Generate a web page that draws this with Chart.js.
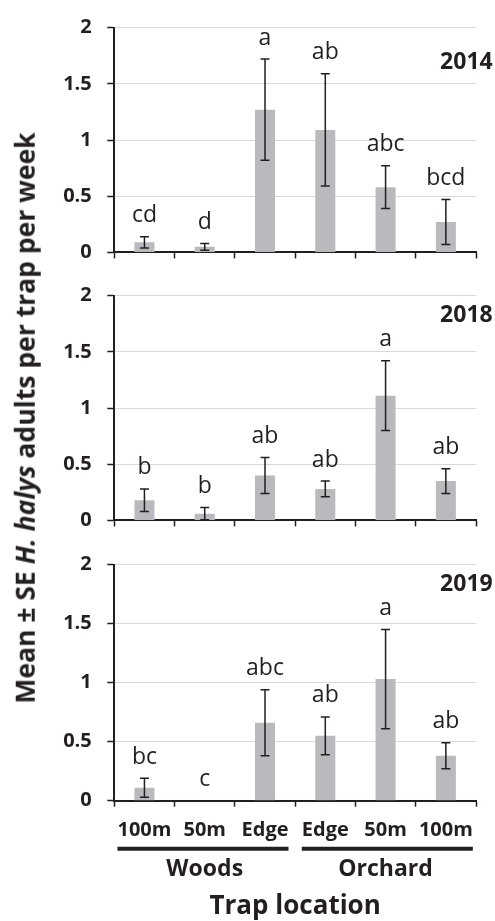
<!DOCTYPE html>
<html>
<head>
<meta charset="utf-8">
<script src="https://cdn.jsdelivr.net/npm/chart.js@4/dist/chart.umd.min.js"></script>
<style>
  body { margin: 0; background: #fff; }
  #wrap { position: relative; width: 495px; height: 921px; overflow: hidden; font-family: "Open Sans", sans-serif; }
  #wrap canvas { position: absolute; left: 0; }
  #ytitle {
    position: absolute; left: 25px; top: 418px;
    transform: translate(-50%, -50%) rotate(-90deg);
    white-space: nowrap; font-weight: bold; font-size: 26.5px; line-height: 1;
    color: #231f20;
  }
</style>
</head>
<body>
<div id="wrap">
  <canvas id="c2014" width="495" height="280" style="top:0px"></canvas>
  <canvas id="c2018" width="495" height="280" style="top:268px"></canvas>
  <canvas id="c2019" width="495" height="384" style="top:537px"></canvas>
  <div id="ytitle">Mean ± SE <i>H. halys</i> adults per trap per week</div>
</div>
<script>
// Trap positions along the transect, grouped by habitat
const locations = ['100m', '50m', 'Edge', 'Edge', '50m', '100m'];
const habitats = ['Woods', 'Orchard'];
const habitatOf = [0, 0, 0, 1, 1, 1];
const years = ['2014', '2018', '2019'];
const yTicks = [0, 0.5, 1, 1.5, 2];

// Mean adults per trap per week, standard errors and mean-separation letters
const mean2014 = [0.09, 0.05, 1.27, 1.09, 0.58, 0.27];
const se2014 = [0.05, 0.03, 0.45, 0.50, 0.19, 0.20];
const letters2014 = ['cd', 'd', 'a', 'ab', 'abc', 'bcd'];

const mean2018 = [0.18, 0.06, 0.40, 0.28, 1.11, 0.35];
const se2018 = [0.10, 0.055, 0.16, 0.07, 0.31, 0.11];
const letters2018 = ['b', 'b', 'ab', 'ab', 'a', 'ab'];

const mean2019 = [0.11, 0, 0.66, 0.55, 1.03, 0.38];
const se2019 = [0.08, 0, 0.28, 0.16, 0.42, 0.11];
const letters2019 = ['bc', 'c', 'abc', 'ab', 'a', 'ab'];

const INK = '#231f20';
const BAR = '#b9babd';
const FONT = '"Open Sans", sans-serif';

// Error bars, significance letters and the year tag for one panel
function panelPlugin(se, letters, year, yearOffset) {
  return {
    id: 'panelMarks',
    afterDatasetsDraw(chart) {
      const ctx = chart.ctx;
      const y = chart.scales.y;
      const meta = chart.getDatasetMeta(0);
      const vals = chart.data.datasets[0].data;
      ctx.save();
      ctx.strokeStyle = INK;
      ctx.lineWidth = 1.5;
      ctx.fillStyle = INK;
      ctx.font = '23px ' + FONT;
      ctx.textAlign = 'center';
      ctx.textBaseline = 'alphabetic';
      meta.data.forEach((bar, i) => {
        const m = vals[i], s = se[i];
        const yt = y.getPixelForValue(m + s);
        if (s > 0) {
          const yb = y.getPixelForValue(m - s);
          ctx.beginPath();
          ctx.moveTo(bar.x, yt); ctx.lineTo(bar.x, yb);
          ctx.moveTo(bar.x - 4.5, yt); ctx.lineTo(bar.x + 4.5, yt);
          ctx.moveTo(bar.x - 4.5, yb); ctx.lineTo(bar.x + 4.5, yb);
          ctx.stroke();
        }
        ctx.fillText(letters[i], bar.x, yt - 14.5);
      });
      ctx.font = 'bold 23px ' + FONT;
      ctx.textAlign = 'right';
      ctx.textBaseline = 'middle';
      ctx.fillText(year, chart.chartArea.right + 16.7, chart.chartArea.top + yearOffset);
      ctx.restore();
    }
  };
}

// Habitat bars and names under the location labels
const habitatPlugin = {
  id: 'habitatGroups',
  afterDraw(chart) {
    const ctx = chart.ctx;
    const x = chart.scales.x;
    ctx.save();
    ctx.fillStyle = INK;
    ctx.strokeStyle = INK;
    habitats.forEach((name, h) => {
      const idx = habitatOf.map((g, i) => g === h ? i : -1).filter(i => i >= 0);
      const first = idx[0], last = idx[idx.length - 1];
      ctx.font = 'bold 20px ' + FONT;
      const left = x.getPixelForValue(first) - ctx.measureText(locations[first]).width / 2;
      const right = x.getPixelForValue(last) + ctx.measureText(locations[last]).width / 2;
      ctx.lineWidth = 4;
      ctx.beginPath();
      ctx.moveTo(left, x.top + 48);
      ctx.lineTo(right, x.top + 48);
      ctx.stroke();
      ctx.font = 'bold 23px ' + FONT;
      ctx.textAlign = 'center';
      ctx.textBaseline = 'middle';
      ctx.fillText(name, (x.getPixelForValue(first) + x.getPixelForValue(last)) / 2, x.top + 69);
    });
    ctx.restore();
  }
};

function buildPanel(canvasId, values, se, letters, year, cfg) {
  const plugins = [panelPlugin(se, letters, year, cfg.yearOffset)];
  if (cfg.bottom) plugins.push(habitatPlugin);
  return new Chart(document.getElementById(canvasId), {
    type: 'bar',
    data: {
      labels: locations,
      datasets: [{
        data: values,
        backgroundColor: BAR,
        borderWidth: 0,
        barPercentage: 0.332,
        categoryPercentage: 1
      }]
    },
    options: {
      responsive: false,
      animation: false,
      devicePixelRatio: 1,
      layout: { padding: { top: cfg.padTop, right: 19, bottom: 0, left: 0 } },
      plugins: { legend: { display: false }, tooltip: { enabled: false } },
      scales: {
        x: {
          offset: true,
          grid: { display: true, drawOnChartArea: false, tickLength: 6, tickColor: INK, tickWidth: 1.5 },
          border: { color: INK, width: 2 },
          ticks: {
            display: cfg.bottom,
            color: INK,
            font: { family: FONT, weight: 'bold', size: 20 },
            padding: 12,
            maxRotation: 0,
            autoSkip: false
          },
          title: {
            display: cfg.bottom,
            text: 'Trap location',
            color: INK,
            font: { family: FONT, weight: 'bold', size: 26, lineHeight: 1.1 },
            padding: 0
          },
          afterFit(scale) { scale.height = cfg.xHeight; }
        },
        y: {
          min: 0,
          max: 2,
          afterBuildTicks(scale) { scale.ticks = yTicks.map(v => ({ value: v })); },
          grid: {
            color: c => (c.tick && c.tick.value === 0) ? 'rgba(0,0,0,0)' : '#d9d9d9',
            lineWidth: 1,
            tickLength: 7,
            tickColor: INK,
            tickWidth: 1.5
          },
          border: { color: INK, width: 2 },
          ticks: {
            color: INK,
            font: { family: FONT, weight: 'bold', size: 20 },
            padding: 15.6,
            callback: v => String(v)
          },
          afterFit(scale) { scale.width = 114.3; }
        }
      }
    },
    plugins
  });
}

function draw() {
  buildPanel('c2014', mean2014, se2014, letters2014, years[0], { padTop: 22.7, xHeight: 16.7, yearOffset: 34.5, bottom: false });
  buildPanel('c2018', mean2018, se2018, letters2018, years[1], { padTop: 23, xHeight: 16.3, yearOffset: 19.5, bottom: false });
  buildPanel('c2019', mean2019, se2019, letters2019, years[2], { padTop: 22.7, xHeight: 120.3, yearOffset: 19.8, bottom: true });
}

const fontLoads = ['bold 20px "Open Sans"', '23px "Open Sans"', 'italic bold 20px "Open Sans"']
  .map(f => document.fonts.load(f).catch(() => null));
Promise.all(fontLoads).then(draw, draw);
</script>
</body>
</html>
